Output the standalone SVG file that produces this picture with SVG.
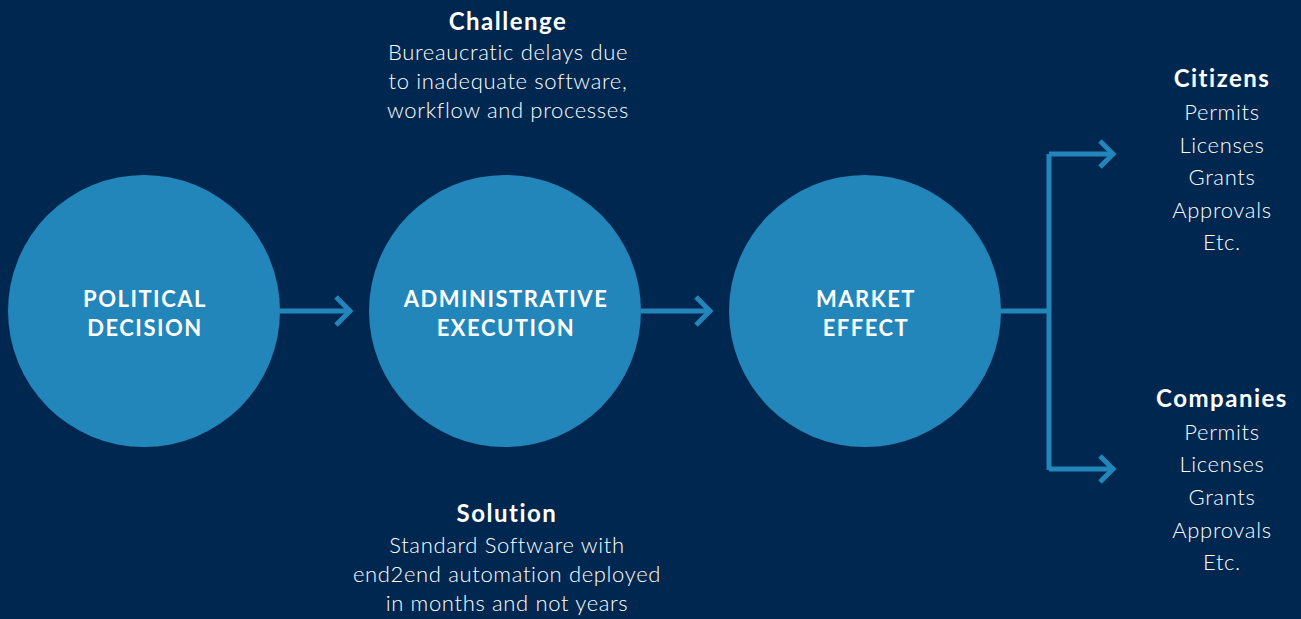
<svg xmlns="http://www.w3.org/2000/svg" width="1301" height="619" viewBox="0 0 1301 619">
<defs>
<style>
.bg{fill:#00274f}
.node{fill:#2386ba}
.lbl{font-family:Lato,"Noto Sans",sans-serif;font-weight:bold;font-size:22px;letter-spacing:1.5px;fill:#ffffff;text-anchor:middle}
.hd{font-family:Lato,"Noto Sans",sans-serif;font-weight:bold;font-size:24px;letter-spacing:1.5px;fill:#ffffff;text-anchor:middle}
.tx{font-family:Lato,"Noto Sans",sans-serif;font-weight:300;font-size:22px;letter-spacing:0.65px;fill:#ffffff;text-anchor:middle}
.ln{fill:none;stroke:#2386ba;stroke-width:5}
</style>
</defs>
<rect class="bg" x="0" y="0" width="1301" height="619"/>
<g id="connectors">
<path class="ln" d="M280 311 H348"/>
<path class="ln" d="M336 297 L350 311 L336 325"/>
<path class="ln" d="M641 311 H708"/>
<path class="ln" d="M696 297 L710 311 L696 325"/>
<path class="ln" d="M1000 311 H1049 M1049 154 V470 M1049 154 H1113 M1049 469 H1113"/>
<path class="ln" d="M1100 141 L1113 154 L1100 167"/>
<path class="ln" d="M1100 456 L1113 469 L1100 482"/>
</g>
<g id="node-political">
<circle class="node" cx="144" cy="311" r="136"/>
<text class="lbl" x="145" y="307">POLITICAL</text>
<text class="lbl" x="145" y="336">DECISION</text>
</g>
<g id="node-administrative">
<circle class="node" cx="505" cy="311" r="136"/>
<text class="lbl" x="506" y="307">ADMINISTRATIVE</text>
<text class="lbl" x="506" y="336">EXECUTION</text>
</g>
<g id="node-market">
<circle class="node" cx="865" cy="311" r="136"/>
<text class="lbl" x="866" y="307">MARKET</text>
<text class="lbl" x="866" y="336">EFFECT</text>
</g>
<g id="challenge">
<text class="hd" x="508" y="30">Challenge</text>
<text class="tx" x="508" y="60">Bureaucratic delays due</text>
<text class="tx" x="508" y="89">to inadequate software,</text>
<text class="tx" x="508" y="118">workflow and processes</text>
</g>
<g id="solution">
<text class="hd" x="507" y="522">Solution</text>
<text class="tx" x="507" y="553">Standard Software with</text>
<text class="tx" x="507" y="582">end2end automation deployed</text>
<text class="tx" x="507" y="611">in months and not years</text>
</g>
<g id="citizens">
<text class="hd" x="1222" y="87">Citizens</text>
<text class="tx" x="1222" y="120">Permits</text>
<text class="tx" x="1222" y="153">Licenses</text>
<text class="tx" x="1222" y="185">Grants</text>
<text class="tx" x="1222" y="218">Approvals</text>
<text class="tx" x="1222" y="250">Etc.</text>
</g>
<g id="companies">
<text class="hd" x="1222" y="407">Companies</text>
<text class="tx" x="1222" y="440">Permits</text>
<text class="tx" x="1222" y="472">Licenses</text>
<text class="tx" x="1222" y="505">Grants</text>
<text class="tx" x="1222" y="538">Approvals</text>
<text class="tx" x="1222" y="570">Etc.</text>
</g>
</svg>
